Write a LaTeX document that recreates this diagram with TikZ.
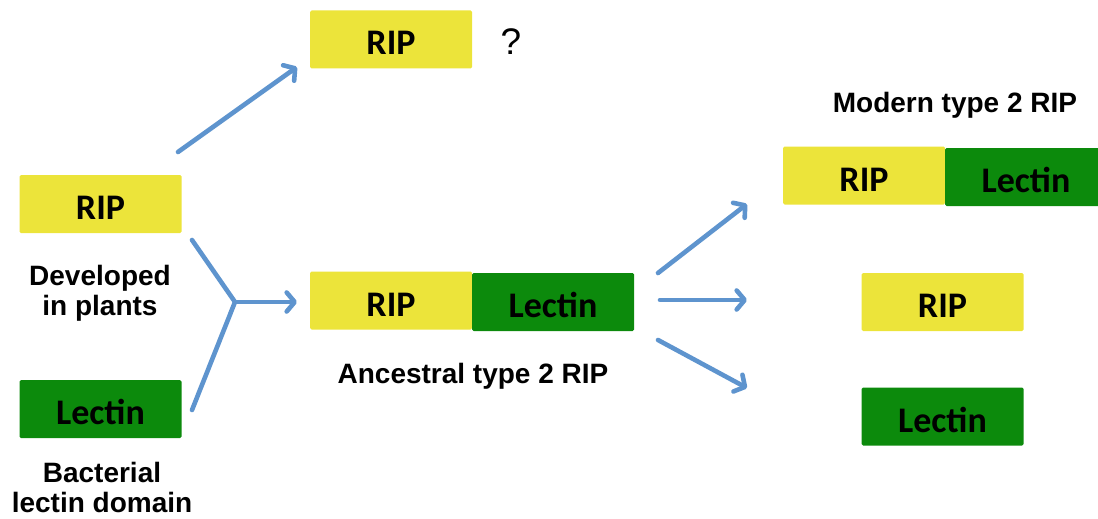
\documentclass[tikz,border=0pt]{standalone}
\usepackage{fontspec}
\setmainfont{Liberation Sans}
\newfontfamily\calfont{Carlito}
\usetikzlibrary{arrows.meta}

\definecolor{ripyellow}{RGB}{236,228,58}
\definecolor{lectgreen}{RGB}{12,138,12}
\definecolor{arrowblue}{RGB}{94,148,206}

\tikzset{
  domainbox/.style={minimum width=162pt, minimum height=58pt, inner sep=0pt,
    text height=31pt, text depth=0pt, rounded corners=1.5pt,
    font=\calfont\bfseries\fontsize{36}{40}\selectfont},
  ripbox/.style={domainbox, fill=ripyellow},
  lectbox/.style={domainbox, fill=lectgreen},
  caption/.style={inner sep=0pt, align=center,
    font=\bfseries\fontsize{28}{30}\selectfont},
  flow/.style={draw=arrowblue, line width=4.6pt, line cap=round, line join=round},
  flowarrow/.style={flow, -{Straight Barb[length=8pt,width=19pt,line cap=round,line join=round]}}
}

\begin{document}
\begin{tikzpicture}[x=1pt,y=-1pt]
\useasboundingbox (0,0) rectangle (1098,519);

% starting domains
\node[ripbox]  (ripL)  at (100.5,204) {RIP};
\node[lectbox] (lectL) at (100.5,409) {Lectin};
\node[caption, anchor=north] (capPlant) at (100,265) {Developed\\in plants};
\node[caption, anchor=north] (capBact)  at (102,462) {Bacterial\\lectin domain};

% lone RIP branch
\node[ripbox] (ripTop) at (391,39.5) {RIP};
\node[inner sep=0pt, anchor=base, font=\fontsize{37}{40}\selectfont] (qmark) at (511,55) {?};

% ancestral fusion
\node[ripbox]  (ripA)  at (391,300.5) {RIP};
\node[lectbox] (lectA) at (553,302) {Lectin};
\node[caption, anchor=base] (capAnc) at (473,383) {Ancestral type 2 RIP};

% modern outcomes
\node[caption, anchor=base] (capMod) at (955,112) {Modern type 2 RIP};
\node[ripbox]  (ripM)  at (864,175.5) {RIP};
\node[lectbox] (lectM) at (1026,177) {Lectin};
\node[ripbox]  (ripR)  at (942.5,302) {RIP};
\node[lectbox] (lectR) at (942.5,416.5) {Lectin};

% connector ends
\coordinate (upS) at (178,152);
\coordinate (upE) at (297,67);
\coordinate (jA) at (192,240);
\coordinate (jB) at (192,410);
\coordinate (jM) at (235,302);
\coordinate (jE) at (297,302);
\coordinate (r1S) at (658,273);
\coordinate (r1E) at (747,204);
\coordinate (r2S) at (660,300);
\coordinate (r2E) at (747,300);
\coordinate (r3S) at (658,340);
\coordinate (r3E) at (747,388);

\draw[flowarrow] (upS) -- (upE);
\draw[flow] (jA) -- (jM) -- (jB);
\draw[flowarrow] (jM) -- (jE);
\draw[flowarrow] (r1S) -- (r1E);
\draw[flowarrow] (r2S) -- (r2E);
\draw[flowarrow] (r3S) -- (r3E);
\end{tikzpicture}
\end{document}
